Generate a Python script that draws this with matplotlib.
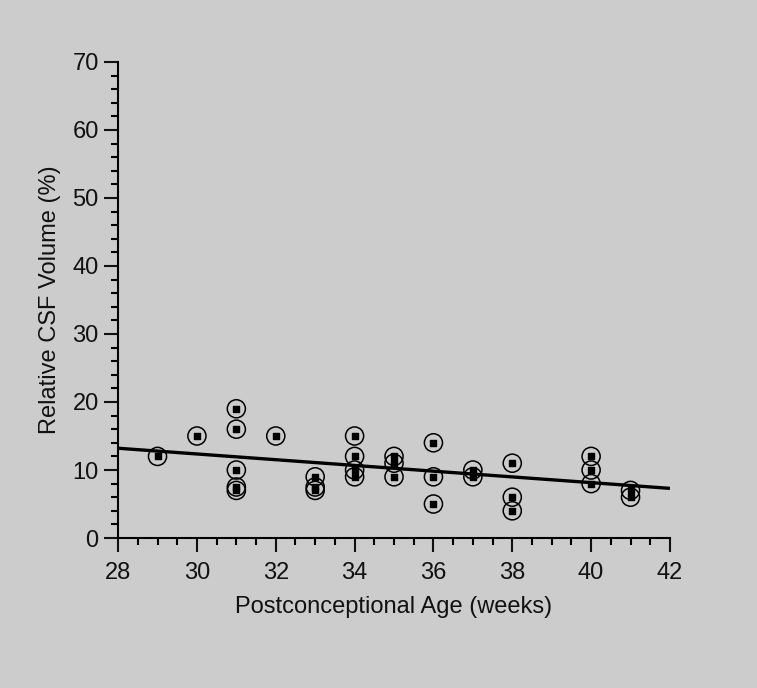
import numpy as np
import matplotlib
matplotlib.use("Agg")
import matplotlib.pyplot as plt
from matplotlib.ticker import MultipleLocator

# Postconceptional age (weeks) and relative CSF volume (%)
age = [29, 30, 31, 31, 31, 31, 31, 32, 33, 33, 33, 34, 34, 34, 34,
       35, 35, 35, 36, 36, 36, 37, 37, 38, 38, 38, 40, 40, 40, 41, 41]
csf = [12, 15, 19, 16, 10, 7.5, 7, 15, 9, 7.5, 7, 15, 12, 10, 9,
       12, 11, 9, 14, 9, 5, 10, 9, 11, 6, 4, 12, 10, 8, 7, 6]

# regression line end points
fit_x = [28, 42]
fit_y = [13.2, 7.3]

bg = "#cccccc"
plt.rcParams['font.family'] = ['Liberation Sans', 'DejaVu Sans']

fig = plt.figure(figsize=(7.57, 6.88), dpi=100, facecolor=bg)
ax = fig.add_axes([0.156, 0.218, 0.729, 0.692], facecolor=bg)

ax.plot(fit_x, fit_y, color="black", lw=2.4, solid_capstyle="butt", zorder=2)
ax.scatter(age, csf, s=170, facecolors="none", edgecolors="black", linewidths=1.1,
           marker="o", zorder=3, clip_on=False)
ax.scatter(age, csf, s=14, color="black", marker="s", zorder=4, clip_on=False)

ax.set_xlim(28, 42)
ax.set_ylim(0, 70)
ax.xaxis.set_major_locator(MultipleLocator(2))
ax.xaxis.set_minor_locator(MultipleLocator(0.5))
ax.yaxis.set_major_locator(MultipleLocator(10))
ax.yaxis.set_minor_locator(MultipleLocator(2))

for s in ["top", "right"]:
    ax.spines[s].set_visible(False)
for s in ["left", "bottom"]:
    ax.spines[s].set_linewidth(1.5)

ax.tick_params(which="major", direction="out", length=10, width=1.5,
               labelsize=17, pad=4, colors="#111111")
ax.tick_params(axis="x", which="major", pad=7)
ax.tick_params(which="minor", direction="out", length=5, width=1.5)

ax.set_xlabel("Postconceptional Age (weeks)", fontsize=17, labelpad=9, color="#111111")
ax.set_ylabel("Relative CSF Volume (%)", fontsize=17, labelpad=8, color="#111111")

fig.savefig("out.png", dpi=100, facecolor=bg)
